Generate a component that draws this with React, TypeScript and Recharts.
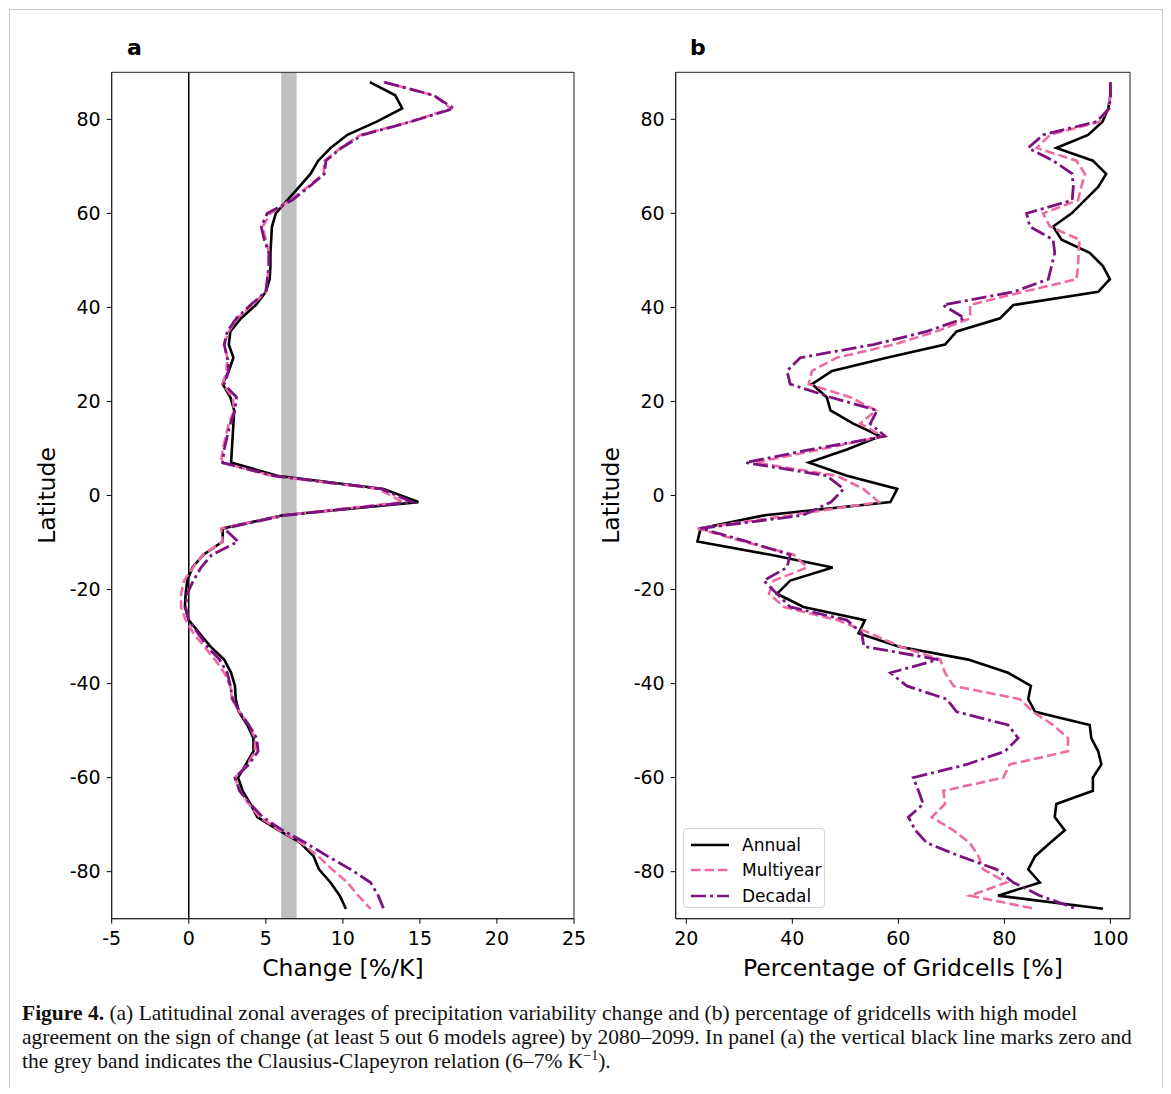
import React from 'react';
import { Legend, Line, LineChart, ReferenceArea, ReferenceLine, XAxis, YAxis } from 'recharts';

// T42 gaussian latitudes, north to south
const latitudes = [
  87.9, 85.1, 82.3, 79.5, 76.7, 73.9, 71.2, 68.4, 65.6, 62.8, 60.0, 57.2, 54.4, 51.6, 48.8, 46.0,
  43.3, 40.5, 37.7, 34.9, 32.1, 29.3, 26.5, 23.7, 20.9, 18.1, 15.3, 12.6, 9.8, 7.0, 4.2, 1.4,
  -1.4, -4.2, -7.0, -9.8, -12.6, -15.3, -18.1, -20.9, -23.7, -26.5, -29.3, -32.1, -34.9, -37.7, -40.5, -43.3,
  -46.0, -48.8, -51.6, -54.4, -57.2, -60.0, -62.8, -65.6, -68.4, -71.2, -73.9, -76.7, -79.5, -82.3, -85.1, -87.9,
];

// panel a: change [%/K]
const changeAnnual = [
  11.75, 13.4, 13.85, 12.2, 10.3, 9.2, 8.4, 7.9, 7.15, 6.4, 5.65, 5.4, 5.35, 5.3, 5.3, 5.25,
  5.0, 4.35, 3.4, 2.7, 2.6, 2.9, 2.6, 2.2, 2.7, 2.95, 2.9, 2.85, 2.8, 2.75, 5.75, 12.65,
  14.9, 6.1, 2.2, 2.2, 0.95, 0.25, -0.1, -0.2, -0.25, 0.0, 0.7, 1.4, 2.3, 2.75, 3.0, 3.05,
  3.25, 3.8, 4.2, 4.2, 3.7, 3.2, 3.5, 4.0, 4.45, 5.85, 7.25, 8.1, 8.45, 9.2, 9.8, 10.2,
];
const changeMultiyear = [
  12.65, 15.9, 17.0, 14.4, 11.15, 9.85, 8.8, 8.75, 7.7, 6.6, 5.3, 4.8, 5.0, 5.2, 5.2, 5.1,
  5.0, 4.1, 3.15, 2.6, 2.3, 2.5, 2.45, 2.2, 2.85, 2.95, 2.6, 2.4, 2.2, 2.1, 5.4, 12.3,
  13.9, 6.2, 2.1, 2.2, 0.9, 0.3, -0.3, -0.5, -0.5, -0.2, 0.3, 1.0, 1.7, 2.3, 2.7, 2.8,
  3.3, 3.9, 4.3, 4.3, 3.8, 3.0, 3.3, 3.9, 4.6, 5.9, 7.3, 8.4, 9.3, 10.3, 11.0, 11.8,
];
const changeDecadal = [
  12.7, 15.9, 17.2, 14.4, 11.3, 9.9, 8.9, 8.8, 7.8, 6.7, 5.1, 4.7, 4.9, 5.2, 5.2, 5.1,
  5.0, 4.0, 3.1, 2.5, 2.3, 2.5, 2.6, 2.3, 3.1, 3.0, 2.7, 2.5, 2.3, 2.2, 5.5, 12.5,
  14.5, 6.3, 2.3, 3.2, 1.5, 0.8, 0.3, -0.1, -0.2, 0.0, 0.6, 1.2, 2.0, 2.5, 2.7, 2.85,
  3.3, 3.9, 4.4, 4.5, 3.9, 3.0, 3.3, 4.0, 4.8, 6.1, 7.6, 9.0, 10.5, 11.8, 12.3, 12.65,
];

// panel b: percentage of gridcells [%]
const agreeAnnual = [
  100, 100, 99.6, 98.5, 95.8, 89.8, 96.7, 99.2, 97.7, 95.2, 92.7, 89.2, 90.8, 96.1, 98.6, 99.9,
  97.7, 81.7, 79.2, 71.0, 68.8, 57.8, 47.5, 43.7, 46.5, 47.2, 51.5, 56.6, 50.3, 43.1, 50.3, 59.8,
  58.5, 34.8, 22.7, 22.1, 35.9, 47.6, 39.6, 37.1, 42.1, 53.7, 52.5, 60.0, 73.2, 80.7, 85.0, 84.5,
  85.8, 96.1, 96.4, 97.7, 98.3, 96.7, 96.7, 89.8, 89.5, 91.4, 88.6, 85.8, 84.5, 86.7, 78.8, 98.6,
];
const agreeMultiyear = [
  100, 100, 99.6, 98.0, 88.6, 86.1, 93.6, 95.2, 94.5, 93.9, 87.3, 88.6, 94.2, 94.0, 93.9, 93.6,
  83.5, 73.5, 73.6, 67.2, 59.1, 48.4, 43.7, 43.1, 50.9, 55.8, 52.8, 57.0, 45.3, 33.0, 48.4, 53.4,
  56.3, 39.6, 22.1, 30.8, 40.3, 42.8, 36.5, 35.6, 38.4, 48.5, 54.7, 60.3, 67.9, 68.8, 70.4, 82.9,
  85.4, 89.2, 92.0, 92.0, 81.0, 79.8, 68.5, 68.8, 66.3, 70.4, 73.5, 75.1, 76.0, 80.4, 73.5, 85.8,
];
const agreeDecadal = [
  100, 100, 99.8, 97.4, 87.3, 84.5, 89.2, 92.8, 93.0, 92.8, 84.2, 84.8, 89.2, 89.5, 88.9, 88.3,
  81.7, 68.4, 72.5, 65.4, 55.3, 41.5, 39.0, 39.6, 47.2, 56.0, 54.7, 57.5, 43.6, 31.2, 46.5, 49.7,
  47.3, 42.0, 22.7, 31.5, 39.6, 39.0, 34.6, 37.1, 39.6, 50.3, 53.1, 53.5, 67.5, 58.5, 61.6, 69.1,
  71.0, 80.7, 82.6, 80.1, 72.9, 62.8, 63.8, 64.7, 61.9, 63.2, 65.4, 71.6, 78.5, 81.7, 86.7, 93.6,
];

const latTicks = [-80, -60, -40, -20, 0, 20, 40, 60, 80];
const changeTicks = [-5, 0, 5, 10, 15, 20, 25];
const agreeTicks = [20, 40, 60, 80, 100];

const seriesNames = ['Annual', 'Multiyear', 'Decadal'];

const panelA = latitudes.map((lat, i) => ({
  lat,
  annual: changeAnnual[i],
  multiyear: changeMultiyear[i],
  decadal: changeDecadal[i],
}));
const panelB = latitudes.map((lat, i) => ({
  lat,
  annual: agreeAnnual[i],
  multiyear: agreeMultiyear[i],
  decadal: agreeDecadal[i],
}));

const FONT = '"DejaVu Sans", sans-serif';
const BLACK = '#000000';
const PINK = '#ee6aa5';
const PURPLE = '#7d1280';
const PINK_DASH = '9.5 4';
const PURPLE_DASH = '15 4 3 4';

const tickStyle = { fontSize: 19, fill: '#000', fontFamily: FONT };

const CHART_H = 952;
const MARGIN = { top: 32.3, right: 16, bottom: 13.3, left: 0 };

function yTitle(props: any) {
  const vb = props.viewBox || { y: 0, height: 0 };
  const cy = vb.y + vb.height / 2;
  return (
    <text
      x={27}
      y={cy}
      transform={`rotate(-90 27 ${cy})`}
      textAnchor="middle"
      dominantBaseline="central"
      fontSize={23.5}
      fontFamily={FONT}
      fill="#000"
    >
      Latitude
    </text>
  );
}

function xTitle(text: string) {
  return (props: any) => {
    const vb = props.viewBox || { x: 0, width: 0 };
    return (
      <text x={vb.x + vb.width / 2} y={936} textAnchor="middle" fontSize={23.5} fontFamily={FONT} fill="#000">
        {text}
      </text>
    );
  };
}

function LegendBox() {
  const rows = [
    { name: seriesNames[0], color: BLACK, dash: undefined },
    { name: seriesNames[1], color: PINK, dash: PINK_DASH },
    { name: seriesNames[2], color: PURPLE, dash: PURPLE_DASH },
  ];
  return (
    <div
      style={{
        width: 142,
        height: 80,
        border: '1px solid #d4d4d4',
        borderRadius: 4,
        background: 'rgba(255,255,255,0.85)',
        boxSizing: 'border-box',
        paddingTop: 3,
      }}
    >
      {rows.map((r) => (
        <div key={r.name} style={{ display: 'flex', alignItems: 'center', height: 25.5 }}>
          <svg width={52} height={10} style={{ marginLeft: 6 }}>
            <line x1={1} y1={5} x2={39} y2={5} stroke={r.color} strokeWidth={2.6} strokeDasharray={r.dash} />
          </svg>
          <span style={{ fontFamily: FONT, fontSize: 17, color: '#000', lineHeight: '20px' }}>{r.name}</span>
        </div>
      ))}
    </div>
  );
}

function seriesLines() {
  return [
    <Line key="a" type="linear" dataKey="annual" name={seriesNames[0]} stroke={BLACK} strokeWidth={2.6} dot={false} isAnimationActive={false} />,
    <Line key="m" type="linear" dataKey="multiyear" name={seriesNames[1]} stroke={PINK} strokeWidth={2.6} strokeDasharray={PINK_DASH} dot={false} isAnimationActive={false} />,
    <Line key="d" type="linear" dataKey="decadal" name={seriesNames[2]} stroke={PURPLE} strokeWidth={2.8} strokeDasharray={PURPLE_DASH} dot={false} isAnimationActive={false} />,
  ];
}

function latitudeAxis() {
  return (
    <YAxis
      type="number"
      dataKey="lat"
      domain={[-90, 90]}
      allowDataOverflow
      reversed
      ticks={latTicks}
      interval={0}
      width={91.7}
      tick={tickStyle}
      tickSize={5}
      tickMargin={6}
      tickLine={{ stroke: '#000' }}
      axisLine={{ stroke: '#222' }}
      label={{ content: yTitle }}
    />
  );
}

export default function App() {
  return (
    <div style={{ position: 'relative', width: 1155, height: 1080 }}>
      <div
        style={{
          position: 'absolute',
          left: 1,
          top: 1,
          width: 1154,
          height: 1079,
          borderLeft: '1px solid #c8c8c8',
          borderRight: '1px solid #c8c8c8',
          borderTop: '1px solid #c8c8c8',
          boxSizing: 'border-box',
        }}
      />
      <div style={{ position: 'absolute', left: 119, top: 27, fontFamily: FONT, fontWeight: 'bold', fontSize: 22 }}>a</div>
      <div style={{ position: 'absolute', left: 682, top: 27, fontFamily: FONT, fontWeight: 'bold', fontSize: 22 }}>b</div>

      <div style={{ position: 'absolute', left: 12, top: 32 }}>
        <LineChart layout="vertical" width={570} height={CHART_H} data={panelA} margin={MARGIN}>
          <ReferenceArea x1={6} x2={7} y1={-90} y2={90} fill="#c0c0c0" fillOpacity={1} stroke="none" />
          <ReferenceLine x={0} stroke="#000" strokeWidth={1.5} />
          <XAxis
            type="number"
            domain={[-5, 25]}
            allowDataOverflow
            ticks={changeTicks}
            interval={0}
            height={60}
            tick={tickStyle}
            tickSize={5}
            tickMargin={8}
            tickLine={{ stroke: '#000' }}
            axisLine={{ stroke: '#222' }}
            label={{ content: xTitle('Change [%/K]') }}
          />
          {latitudeAxis()}
          {seriesLines()}
          <ReferenceArea x1={-5} x2={25} y1={-90} y2={90} fill="none" stroke="#222" strokeWidth={1} />
        </LineChart>
      </div>

      <div style={{ position: 'absolute', left: 576, top: 32 }}>
        <LineChart layout="vertical" width={562} height={CHART_H} data={panelB} margin={MARGIN}>
          <XAxis
            type="number"
            domain={[18, 103.7]}
            allowDataOverflow
            ticks={agreeTicks}
            interval={0}
            height={60}
            tick={tickStyle}
            tickSize={5}
            tickMargin={8}
            tickLine={{ stroke: '#000' }}
            axisLine={{ stroke: '#222' }}
            label={{ content: xTitle('Percentage of Gridcells [%]') }}
          />
          {latitudeAxis()}
          {seriesLines()}
          <ReferenceArea x1={18} x2={103.7} y1={-90} y2={90} fill="none" stroke="#222" strokeWidth={1} />
          <Legend
            layout="vertical"
            align="center"
            verticalAlign="middle"
            wrapperStyle={{ position: 'absolute', left: 99, top: 788, width: 'auto' }}
            content={() => <LegendBox />}
          />
        </LineChart>
      </div>

      <div
        style={{
          position: 'absolute',
          left: 14,
          top: 993,
          fontFamily: '"Liberation Serif", serif',
          fontSize: 21.5,
          lineHeight: '24px',
          color: '#111',
          whiteSpace: 'nowrap',
        }}
      >
        <div>
          <b>Figure 4.</b> (a) Latitudinal zonal averages of precipitation variability change and (b) percentage of gridcells with high model
        </div>
        <div>
          agreement on the sign of change (at least 5 out 6 models agree) by 2080–2099. In panel (a) the vertical black line marks zero and
        </div>
        <div>
          the grey band indicates the Clausius-Clapeyron relation (6–7% K<sup style={{ fontSize: 14, lineHeight: 0 }}>−1</sup>).
        </div>
      </div>
    </div>
  );
}
